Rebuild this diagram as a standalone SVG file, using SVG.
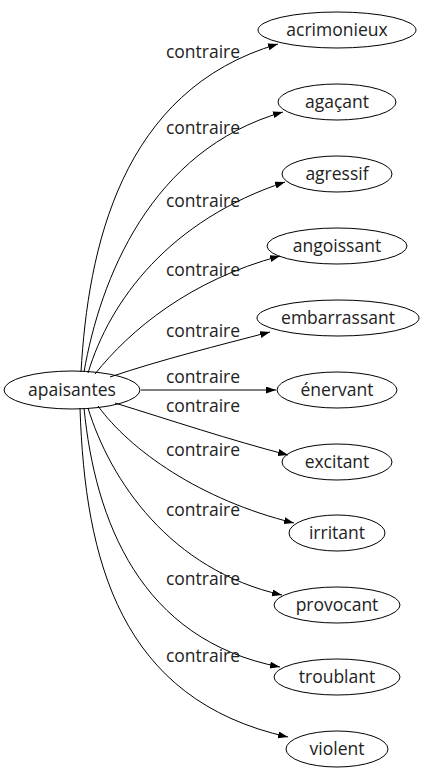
<svg xmlns="http://www.w3.org/2000/svg" width="426" height="779" viewBox="0 0 426 779">
<style>
.n ellipse{fill:none;stroke:#000;stroke-width:1}
text{font-family:"Open Sans","DejaVu Sans",sans-serif;font-size:17.5px;fill:#222;text-anchor:middle}
.e path{fill:none;stroke:#000;stroke-width:1;marker-end:url(#a)}
</style>
<defs><marker id="a" markerUnits="userSpaceOnUse" markerWidth="10" markerHeight="8" refX="10" refY="3.5" orient="auto"><path d="M0,0 L10,3.5 L0,7 z" fill="#000"/></marker></defs>
<rect width="426" height="779" fill="#fff"/>
<g class="e">
<path d="M81,372 C88,250 120,90 278,44"/>
<path d="M84,372 C100,280 150,150 283,112"/>
<path d="M88,373 C110,300 170,220 285,182"/>
<path d="M95,374 C130,330 190,280 280,256"/>
<path d="M110,377 C160,360 220,345 270,332"/>
<path d="M141,390 L276,390"/>
<path d="M115,403 C170,420 230,440 288,455"/>
<path d="M98,406 C130,450 200,500 294,523"/>
<path d="M88,408 C110,480 170,570 282,595"/>
<path d="M84,408 C95,520 140,640 280,667"/>
<path d="M80,408 C85,560 120,700 288,737"/>
</g>
<g class="l">
<text x="203" y="58">contraire</text>
<text x="203" y="134">contraire</text>
<text x="203" y="207">contraire</text>
<text x="203" y="276">contraire</text>
<text x="203" y="337">contraire</text>
<text x="203" y="383">contraire</text>
<text x="203" y="412">contraire</text>
<text x="203" y="456">contraire</text>
<text x="203" y="516">contraire</text>
<text x="203" y="585">contraire</text>
<text x="203" y="662">contraire</text>
</g>
<g id="apaisantes" class="n"><ellipse cx="72" cy="390" rx="68" ry="19"/><text x="72" y="396">apaisantes</text></g>
<g id="acrimonieux" class="n"><ellipse cx="337" cy="30" rx="79" ry="18"/><text x="337" y="36">acrimonieux</text></g>
<g id="agacant" class="n"><ellipse cx="337" cy="102" rx="59" ry="18"/><text x="337" y="108">agaçant</text></g>
<g id="agressif" class="n"><ellipse cx="337" cy="174" rx="55" ry="18"/><text x="337" y="180">agressif</text></g>
<g id="angoissant" class="n"><ellipse cx="337" cy="246" rx="70" ry="18"/><text x="337" y="252">angoissant</text></g>
<g id="embarrassant" class="n"><ellipse cx="338" cy="318" rx="81" ry="18"/><text x="338" y="324">embarrassant</text></g>
<g id="enervant" class="n"><ellipse cx="337" cy="390" rx="60" ry="18"/><text x="337" y="396">énervant</text></g>
<g id="excitant" class="n"><ellipse cx="337" cy="462" rx="55" ry="18"/><text x="337" y="468">excitant</text></g>
<g id="irritant" class="n"><ellipse cx="337" cy="533" rx="48" ry="18"/><text x="337" y="539">irritant</text></g>
<g id="provocant" class="n"><ellipse cx="337" cy="605" rx="63" ry="18"/><text x="337" y="611">provocant</text></g>
<g id="troublant" class="n"><ellipse cx="337" cy="677" rx="63" ry="18"/><text x="337" y="683">troublant</text></g>
<g id="violent" class="n"><ellipse cx="337" cy="749" rx="51" ry="18"/><text x="337" y="755">violent</text></g>
</svg>
